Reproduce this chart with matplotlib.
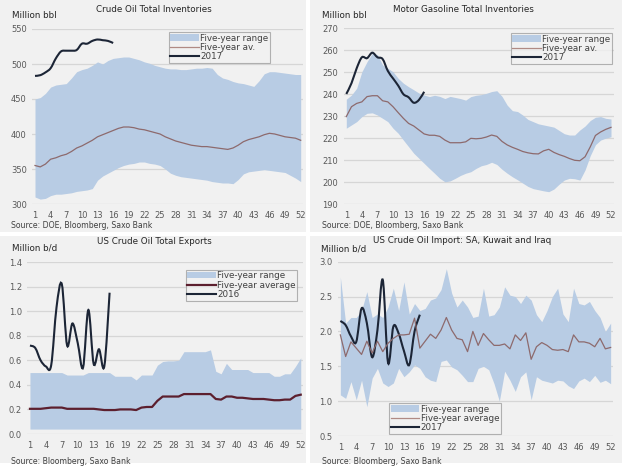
import numpy as np
import matplotlib

matplotlib.use("Agg")
import matplotlib.pyplot as plt
from matplotlib.path import Path
from matplotlib.patches import PathPatch, Patch, Rectangle
from matplotlib.lines import Line2D

plt.rcParams["font.family"] = "DejaVu Sans"

weeks = np.arange(1, 53)
week_ticks = np.arange(1, 53, 3)

# Crude oil total inventories (million bbl)
crude_max = [450, 452, 458, 467, 470, 471, 472, 480, 489, 492, 494, 498, 503, 500, 505, 508,
             509, 510, 510, 508, 506, 503, 501, 498, 496, 494, 493, 493, 492, 492, 493, 494,
             494, 495, 494, 485, 480, 478, 475, 473, 472, 470, 468, 476, 486, 489, 489, 488,
             487, 486, 485, 485]
crude_min = [310, 307, 308, 312, 314, 314, 315, 316, 318, 319, 320, 322, 334, 340, 344, 348,
             352, 355, 357, 358, 360, 360, 358, 357, 355, 350, 344, 341, 339, 338, 337, 336,
             335, 334, 332, 331, 330, 330, 329, 335, 343, 346, 347, 348, 349, 348, 347, 346,
             345, 341, 337, 332]
crude_avg = [355, 353, 357, 364, 366, 369, 371, 375, 380, 383, 387, 391, 396, 399, 402, 405,
             408, 410, 410, 409, 407, 406, 404, 402, 400, 396, 393, 390, 388, 386, 384, 383,
             382, 382, 381, 380, 379, 378, 380, 384, 389, 392, 394, 396, 399, 401, 400, 398,
             396, 395, 394, 391]
crude_2017 = [483, 484, 488, 494, 508, 518, 519, 519, 520, 529, 529, 533, 535, 534, 533, 530]

# Motor gasoline total inventories (million bbl)
gas_max = [237.7, 239.6, 242.7, 250.2, 254.8, 258.6, 258.0, 253.3, 251.8, 250.2, 247.2, 245.0,
           243.4, 242.0, 240.5, 239.6, 238.9, 239.5, 239.0, 238.0, 239.0, 238.5, 238.0, 237.3,
           238.9, 239.5, 239.8, 240.4, 241.2, 241.6, 239.0, 235.0, 232.5, 232.1, 230.5, 228.5,
           227.5, 226.5, 226.0, 225.5, 225.0, 223.5, 222.0, 221.4, 221.4, 223.7, 225.5, 228.0,
           229.5, 229.8, 229.0, 228.7]
gas_min = [224.5, 226.0, 227.5, 229.8, 231.3, 231.5, 230.5, 229.0, 227.5, 224.5, 222.2, 219.1,
           216.1, 213.1, 210.8, 208.5, 206.2, 204.0, 201.7, 200.1, 200.5, 201.7, 203.0, 204.0,
           204.7, 206.2, 207.4, 208.0, 209.0, 208.0, 205.8, 204.0, 202.4, 201.0, 199.5, 198.0,
           197.0, 196.5, 196.0, 195.6, 196.8, 199.0, 200.9, 201.7, 201.5, 200.9, 205.5, 212.0,
           217.0, 219.1, 220.0, 220.6]
gas_avg = [229.8, 234.3, 235.8, 236.5, 238.9, 239.3, 239.3, 237.0, 236.5, 234.3, 231.6, 229.0,
           226.7, 225.5, 223.7, 221.9, 221.3, 221.3, 220.8, 219.1, 217.9, 217.9, 217.9, 218.3,
           219.9, 219.7, 219.9, 220.5, 221.4, 220.8, 218.5, 216.9, 215.8, 214.9, 213.9, 213.3,
           212.9, 212.8, 214.2, 214.9, 213.5, 212.5, 211.7, 210.7, 209.9, 209.7, 211.5, 216.0,
           221.2, 222.8, 224.0, 224.9]
gas_2017 = [240.1, 245.0, 251.8, 256.8, 256.4, 258.9, 256.8, 256.0, 250.6, 247.2, 243.9, 240.0,
            238.6, 236.1, 237.4, 241.1]

# US crude oil total exports (million b/d)
exp_max = [0.50, 0.50, 0.50, 0.50, 0.50, 0.50, 0.50, 0.48, 0.48, 0.48, 0.48, 0.50, 0.50, 0.50,
           0.50, 0.50, 0.47, 0.47, 0.47, 0.47, 0.44, 0.48, 0.48, 0.48, 0.56, 0.59, 0.595, 0.595,
           0.60, 0.67, 0.67, 0.67, 0.67, 0.67, 0.685, 0.51, 0.49, 0.575, 0.525, 0.525, 0.525,
           0.525, 0.50, 0.50, 0.50, 0.50, 0.47, 0.47, 0.49, 0.49, 0.55, 0.62]
exp_min = [0.04, 0.04, 0.04, 0.04, 0.04, 0.04, 0.04, 0.04, 0.04, 0.04, 0.04, 0.04, 0.04, 0.04,
           0.04, 0.04, 0.04, 0.04, 0.04, 0.04, 0.04, 0.04, 0.04, 0.04, 0.04, 0.04, 0.04, 0.04,
           0.04, 0.04, 0.04, 0.04, 0.04, 0.04, 0.04, 0.04, 0.04, 0.04, 0.04, 0.04, 0.04, 0.04,
           0.04, 0.04, 0.04, 0.04, 0.04, 0.04, 0.04, 0.04, 0.04, 0.04]
exp_avg = [0.205, 0.205, 0.205, 0.21, 0.215, 0.215, 0.215, 0.205, 0.205, 0.205, 0.205, 0.205,
           0.205, 0.20, 0.195, 0.195, 0.195, 0.20, 0.20, 0.20, 0.195, 0.215, 0.22, 0.22, 0.27,
           0.305, 0.305, 0.305, 0.305, 0.325, 0.325, 0.325, 0.325, 0.325, 0.325, 0.285, 0.28,
           0.305, 0.305, 0.295, 0.295, 0.29, 0.285, 0.285, 0.285, 0.28, 0.275, 0.275, 0.28,
           0.28, 0.31, 0.32]
exp_2016 = [0.72, 0.70, 0.60, 0.55, 0.56, 1.03, 1.22, 0.72, 0.90, 0.74, 0.54, 1.01, 0.57, 0.69,
            0.55, 1.15]

# US crude oil import from SA, Kuwait and Iraq (million b/d)
imp_max = [2.78, 2.12, 2.20, 2.20, 2.30, 2.57, 2.20, 2.25, 2.20, 2.35, 2.62, 2.30, 2.71, 2.25,
           2.40, 2.30, 2.33, 2.45, 2.48, 2.60, 2.90, 2.55, 2.35, 2.45, 2.35, 2.20, 2.22, 2.62,
           2.22, 2.24, 2.35, 2.64, 2.52, 2.50, 2.40, 2.52, 2.45, 2.24, 2.14, 2.30, 2.50, 2.62,
           2.25, 2.14, 2.62, 2.40, 2.38, 2.43, 2.30, 2.20, 2.00, 2.12]
imp_min = [1.09, 1.04, 1.28, 1.02, 1.30, 0.92, 1.33, 1.47, 1.26, 1.21, 1.26, 1.47, 1.35, 1.42,
           1.52, 1.47, 1.35, 1.30, 1.28, 1.57, 1.59, 1.49, 1.45, 1.37, 1.28, 1.28, 1.47, 1.50,
           1.45, 1.25, 1.00, 1.43, 1.30, 1.14, 1.35, 1.42, 1.02, 1.35, 1.30, 1.28, 1.26, 1.30,
           1.29, 1.22, 1.18, 1.29, 1.33, 1.28, 1.37, 1.27, 1.30, 1.25]
imp_avg = [1.95, 1.64, 1.85, 1.76, 1.67, 1.86, 1.69, 1.86, 1.71, 1.83, 1.90, 1.95, 1.95, 1.96,
           2.19, 1.76, 1.86, 1.96, 1.90, 2.02, 2.20, 2.02, 1.90, 1.88, 1.71, 2.00, 1.80, 1.97,
           1.88, 1.80, 1.80, 1.82, 1.75, 1.95, 1.87, 1.98, 1.60, 1.78, 1.84, 1.80, 1.74, 1.73,
           1.74, 1.71, 1.95, 1.85, 1.85, 1.83, 1.78, 1.90, 1.75, 1.77]
imp_2017 = [2.15, 2.09, 1.93, 1.85, 2.33, 2.12, 1.63, 2.02, 2.74, 1.55, 2.07, 1.97, 1.72, 1.52,
            2.00, 2.24]

W, H = 625.0, 469.0
panel_bg = "#f1f1f1"
fill_col = "#b8cce4"
avg_col = "#8d6a6d"
avg_col_exp = "#5c1f2e"
cur_col = "#1c2536"
grid_col = "#d6d6d6"
tick_col = "#595959"


def smooth_path(x, y):
    # Catmull-Rom through the weekly points, drawn as cubic Bezier segments
    pts = np.column_stack([x, y]).astype(float)
    n = len(pts)
    verts = [pts[0]]
    codes = [Path.MOVETO]
    for i in range(n - 1):
        p0 = pts[i - 1] if i > 0 else pts[i]
        p1 = pts[i]
        p2 = pts[i + 1]
        p3 = pts[i + 2] if i + 2 < n else pts[i + 1]
        verts += [p1 + (p2 - p0) / 6.0, p2 - (p3 - p1) / 6.0, p2]
        codes += [Path.CURVE4] * 3
    return Path(verts, codes)


fig = plt.figure(figsize=(W / 100, H / 100), dpi=100, facecolor="white")

# grey panel backgrounds (drawn under the axes)
for (l, t, r, b) in [(0, 0, 306, 232), (310, 0, 622, 232), (0, 236, 306, 463), (310, 236, 622, 463)]:
    fig.patches.append(
        Rectangle((l / W, 1 - b / H), (r - l) / W, (b - t) / H,
                  transform=fig.transFigure, facecolor=panel_bg, edgecolor="none", zorder=-5)
    )


def make_axes(left, top, right, bottom):
    ax = fig.add_axes([left / W, 1 - bottom / H, (right - left) / W, (bottom - top) / H])
    ax.set_facecolor("none")
    for s in ax.spines.values():
        s.set_visible(False)
    ax.set_xlim(0.5, 52.5)
    ax.set_xticks(week_ticks)
    ax.tick_params(length=0, labelsize=6, labelcolor=tick_col)
    ax.tick_params(axis="x", pad=5)
    ax.tick_params(axis="y", pad=4)
    ax.yaxis.grid(True, color=grid_col, lw=0.9)
    ax.set_axisbelow(True)
    return ax


def add_legend(ax, handles, labels, x, y):
    leg = ax.legend(
        handles, labels, loc="upper left",
        bbox_to_anchor=(x / W, 1 - y / H), bbox_transform=fig.transFigure,
        fontsize=6.3, frameon=True, fancybox=False, borderpad=0.15,
        handlelength=3.3, handletextpad=0.15, labelspacing=0.05, borderaxespad=0,
    )
    leg.get_frame().set_edgecolor("#a0a0a0")
    leg.get_frame().set_facecolor(panel_bg)
    leg.get_frame().set_linewidth(0.8)
    for txt in leg.get_texts():
        txt.set_color("#404040")


# ---- Crude oil ----
ax0 = make_axes(32.4, 29, 303.3, 204)
ax0.set_ylim(300, 550)
ax0.set_yticks(np.arange(300, 551, 50))
ax0.fill_between(weeks, crude_min, crude_max, color=fill_col, lw=0)
ax0.plot(weeks, crude_avg, color=avg_col, lw=0.9)
ax0.add_patch(PathPatch(smooth_path(weeks[:len(crude_2017)], crude_2017), fill=False,
                        edgecolor=cur_col, lw=1.5))
add_legend(ax0,
           [Patch(facecolor=fill_col), Line2D([], [], color="#b08a84", lw=0.9), Line2D([], [], color=cur_col, lw=1.5)],
           ["Five-year range", "Five-year av.", "2017"], 169, 32.3)

# ---- Motor gasoline ----
ax1 = make_axes(343.7, 28.3, 613.6, 204)
ax1.set_ylim(190, 270)
ax1.set_yticks(np.arange(190, 271, 10))
ax1.fill_between(weeks, gas_min, gas_max, color=fill_col, lw=0)
ax1.plot(weeks, gas_avg, color=avg_col, lw=0.9)
ax1.add_patch(PathPatch(smooth_path(weeks[:len(gas_2017)], gas_2017), fill=False,
                        edgecolor=cur_col, lw=1.5))
add_legend(ax1,
           [Patch(facecolor=fill_col), Line2D([], [], color="#b08a84", lw=0.9), Line2D([], [], color=cur_col, lw=1.5)],
           ["Five-year range", "Five-year av.", "2017"], 510.7, 33.3)

# ---- Exports ----
ax2 = make_axes(27.3, 262, 303.4, 434)
ax2.set_ylim(0, 1.4)
ax2.set_yticks(np.arange(0, 1.41, 0.2))
ax2.set_yticklabels(["%.1f" % v for v in np.arange(0, 1.41, 0.2)])
ax2.fill_between(weeks, exp_min, exp_max, color=fill_col, lw=0)
ax2.plot(weeks, exp_avg, color=avg_col_exp, lw=1.6)
ax2.add_patch(PathPatch(smooth_path(weeks[:len(exp_2016)], exp_2016), fill=False,
                        edgecolor=cur_col, lw=1.5))
add_legend(ax2,
           [Patch(facecolor=fill_col), Line2D([], [], color=avg_col_exp, lw=1.6), Line2D([], [], color=cur_col, lw=1.5)],
           ["Five-year range", "Five-year average", "2016"], 186, 270)

# ---- Imports ----
ax3 = make_axes(337.7, 261.7, 613.3, 436)
ax3.set_ylim(0.5, 3.0)
ax3.set_yticks(np.arange(0.5, 3.01, 0.5))
ax3.set_yticklabels(["%.1f" % v for v in np.arange(0.5, 3.01, 0.5)])
ax3.fill_between(weeks, imp_min, imp_max, color=fill_col, lw=0)
ax3.plot(weeks, imp_avg, color=avg_col, lw=0.9)
ax3.add_patch(PathPatch(smooth_path(weeks[:len(imp_2017)], imp_2017), fill=False,
                        edgecolor=cur_col, lw=1.5))
add_legend(ax3,
           [Patch(facecolor=fill_col), Line2D([], [], color="#b08a84", lw=0.9), Line2D([], [], color=cur_col, lw=1.5)],
           ["Five-year range", "Five-year average", "2017"], 389.3, 403.3)

# titles, units and sources
txt_kw = dict(transform=fig.transFigure, color="#262626")
for x, y, s in [(154, 9, "Crude Oil Total Inventories"),
                (463, 9, "Motor Gasoline Total Inventories"),
                (154, 241, "US Crude Oil Total Exports"),
                (462, 240, "US Crude Oil Import: SA, Kuwait and Iraq")]:
    fig.text(x / W, 1 - y / H, s, ha="center", va="center", fontsize=6.3, **txt_kw)
for x, y, s in [(12, 16, "Million bbl"), (322, 15, "Million bbl"),
                (12, 248, "Million b/d"), (321, 249, "Million b/d")]:
    fig.text(x / W, 1 - y / H, s, ha="left", va="center", fontsize=6.3, **txt_kw)
for x, y, s in [(11, 225, "Source: DOE, Bloomberg, Saxo Bank"),
                (322, 225, "Source: DOE, Bloomberg, Saxo Bank"),
                (11, 461, "Source: Bloomberg, Saxo Bank"),
                (322, 461, "Source: Bloomberg, Saxo Bank")]:
    fig.text(x / W, 1 - y / H, s, ha="left", va="center", fontsize=5.6,
             transform=fig.transFigure, color="#404040")

fig.savefig("out.png", dpi=100, facecolor="white")
plt.close(fig)
